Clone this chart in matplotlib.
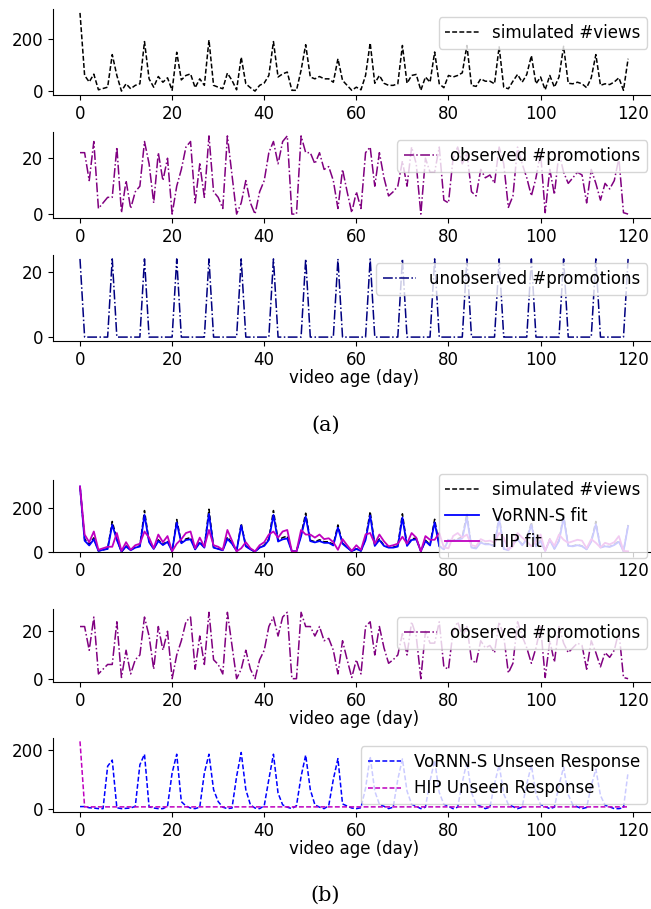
import numpy as np
import matplotlib
matplotlib.use("Agg")
import matplotlib.pyplot as plt

days = np.arange(120)

views = [300, 60, 35, 65, 5, 10, 15, 140, 60, 0,
         28, 9, 22, 28, 190, 47, 15, 56, 34, 51,
         3, 149, 43, 60, 66, 13, 47, 22, 196, 22,
         15, 9, 69, 41, 5, 130, 28, 13, 0, 22,
         31, 60, 190, 54, 66, 73, 3, 3, 80, 178,
         54, 47, 56, 47, 47, 34, 124, 41, 22, 3,
         15, 5, 60, 185, 30, 60, 30, 22, 22, 28,
         175, 30, 60, 64, 3, 54, 34, 150, 28, 13,
         60, 54, 60, 70, 175, 22, 18, 47, 38, 38,
         28, 170, 15, 9, 38, 64, 34, 64, 136, 28,
         54, 5, 60, 15, 54, 172, 30, 28, 34, 28,
         13, 51, 140, 22, 28, 25, 35, 51, 3, 124]

observed_promos = [22, 22, 12, 26, 2, 4, 6, 6, 24, 0.5,
                   12, 2, 8, 10, 26, 18, 4, 22, 12, 20,
                   0, 10, 16, 24, 26, 4, 18, 6, 28, 8,
                   6, 2, 28, 14, 0, 4, 12, 4, 0, 8,
                   12, 22, 26, 18, 26, 28, 0, 0, 28, 22,
                   22, 18, 22, 16, 17, 12, 2, 16, 8, 0.5,
                   8, 2, 22, 24, 10, 22, 13, 6.5, 8, 10,
                   19, 10, 24, 18, 0, 20, 15, 15, 24, 5,
                   4, 20, 24, 18, 22, 8, 6.5, 16, 13, 14,
                   11, 24, 18, 2.4, 6.5, 24, 18, 13, 6.5, 13,
                   22, 0.5, 16, 7, 22, 15, 11, 13, 15, 14,
                   4, 16, 11, 5, 11, 9, 12, 20, 0.5, 0]

unobserved_promos = [24, 0, 0, 0, 0, 0, 0, 24, 0, 0,
                     0, 0, 0, 0, 24, 0, 0, 0, 0, 0,
                     0, 24, 0, 0, 0, 0, 0, 0, 24, 0,
                     0, 0, 0, 0, 0, 24, 0, 0, 0, 0,
                     0, 0, 24, 0, 0, 0, 0, 0, 0, 24,
                     0, 0, 0, 0, 0, 0, 24, 0, 0, 0,
                     0, 0, 0, 24, 0, 0, 0, 0, 0, 0,
                     24, 0, 0, 0, 0, 0, 0, 24, 0, 0,
                     0, 0, 0, 0, 24, 0, 0, 0, 0, 0,
                     0, 24, 0, 0, 0, 0, 0, 0, 24, 0,
                     0, 0, 0, 0, 0, 24, 0, 0, 0, 0,
                     0, 0, 24, 0, 0, 0, 0, 0, 0, 24]

vornn_fit = [300, 52, 30, 58, 5, 10, 14, 125, 55, 2,
             25, 8, 20, 25, 170, 45, 14, 50, 32, 46,
             4, 135, 40, 55, 58, 12, 42, 20, 175, 20,
             14, 8, 60, 38, 5, 122, 26, 12, 2, 20,
             28, 55, 170, 48, 58, 62, 3, 3, 72, 162,
             50, 44, 50, 42, 42, 30, 112, 38, 20, 4,
             14, 5, 55, 168, 28, 55, 28, 20, 20, 25,
             158, 28, 55, 58, 4, 50, 30, 136, 26, 12,
             55, 50, 55, 62, 158, 20, 16, 43, 35, 35,
             26, 154, 14, 8, 35, 58, 31, 58, 124, 26,
             50, 5, 55, 14, 50, 156, 28, 26, 31, 26,
             12, 47, 127, 20, 26, 23, 32, 47, 4, 118]

hip_fit = [300, 80, 45, 94, 10, 17, 24, 24, 87, 5,
           45, 10, 31, 38, 94, 66, 17, 80, 45, 73,
           3, 38, 59, 87, 94, 17, 66, 24, 101, 31,
           24, 10, 101, 52, 3, 17, 45, 17, 3, 31,
           45, 80, 94, 66, 94, 101, 3, 3, 101, 80,
           80, 66, 80, 59, 63, 45, 10, 59, 31, 5,
           31, 10, 80, 87, 38, 80, 49, 26, 31, 38,
           70, 38, 87, 66, 3, 73, 56, 56, 87, 21,
           17, 73, 87, 66, 80, 31, 26, 59, 49, 52,
           42, 87, 66, 11, 26, 87, 66, 49, 26, 49,
           80, 5, 59, 28, 80, 56, 42, 49, 56, 52,
           17, 59, 42, 21, 42, 35, 45, 73, 5, 3]

vornn_unseen = [7, 7, 3, 2, 0, 0, 145, 166, 3, 0,
                1, 2, 8, 150, 186, 6, 2, 0, 0, 8,
                122, 186, 24, 9, 2, 0, 5, 122, 186, 65,
                24, 5, 0, 2, 110, 192, 65, 13, 2, 0,
                10, 100, 186, 53, 13, 5, 0, 10, 110, 183,
                65, 13, 5, 0, 10, 100, 171, 16, 9, 2,
                0, 3, 70, 178, 60, 15, 8, 0, 5, 100,
                170, 60, 15, 8, 0, 5, 95, 165, 55, 15,
                8, 0, 5, 90, 160, 55, 15, 8, 0, 5,
                85, 150, 50, 14, 7, 0, 5, 85, 148, 50,
                14, 7, 0, 5, 80, 142, 48, 13, 6, 0,
                4, 78, 135, 45, 12, 6, 0, 0, 3, 125]

hip_unseen = [230] + [6] * 119

xticks = [0, 20, 40, 60, 80, 100, 120]

plt.rcParams['font.family'] = ['DejaVu Sans']
plt.rcParams['font.size'] = 12

W, H = 651, 909
fig = plt.figure(figsize=(W / 100, H / 100), dpi=100)

def add_ax(top, bottom):
    left = 52.6
    right = 655.5
    return fig.add_axes([left / W, 1 - bottom / H, (right - left) / W, (bottom - top) / H])

def style(ax, yt):
    ax.spines['top'].set_visible(False)
    ax.spines['right'].set_visible(False)
    ax.set_xticks(xticks)
    ax.set_yticks(yt)
    ax.tick_params(labelsize=12)

lw = 1.1
dash = (3.2, 1.5)
# (a)
ax1 = add_ax(9, 95)
ax1.plot(days, views, '--', dashes=dash, color='black', lw=lw, label='simulated #views')
style(ax1, [0, 200])
ax1.legend(loc='upper right', fontsize=12)

ax2 = add_ax(132, 218)
ax2.plot(days, observed_promos, '-.', color='purple', lw=lw, label='observed #promotions')
style(ax2, [0, 20])
ax2.legend(loc='upper right', fontsize=12)

ax3 = add_ax(255, 341)
ax3.plot(days, unobserved_promos, '-.', color='navy', lw=lw, label='unobserved #promotions')
style(ax3, [0, 20])
ax3.legend(loc='upper right', fontsize=12)
ax3.set_xlabel('video age (day)', fontsize=12, labelpad=0.5)

fig.text(0.5, 1 - 425 / H, '(a)', ha='center', va='center', fontsize=15, family='DejaVu Serif')

# (b)
ax4 = add_ax(480, 552)
ax4.plot(days, views, '--', dashes=dash, color='black', lw=lw, label='simulated #views')
ax4.plot(days, vornn_fit, '-', color='blue', lw=1.3, label='VoRNN-S fit')
ax4.plot(days, hip_fit, '-', color='m', lw=1.3, label='HIP fit')
style(ax4, [0, 200])
ax4.set_ylim(0, 330)
ax4.legend(loc='center right', fontsize=12)

ax5 = add_ax(609, 682)
ax5.plot(days, observed_promos, '-.', color='purple', lw=lw, label='observed #promotions')
style(ax5, [0, 20])
ax5.legend(loc='upper right', fontsize=12)
ax5.set_xlabel('video age (day)', fontsize=12, labelpad=0.5)

ax6 = add_ax(738, 812)
ax6.plot(days, vornn_unseen, '--', dashes=dash, color='blue', lw=lw, label='VoRNN-S Unseen Response')
ax6.plot(days, hip_unseen, '--', dashes=dash, color='m', lw=lw, label='HIP Unseen Response')
style(ax6, [0, 200])
ax6.legend(loc='upper right', fontsize=12)
ax6.set_xlabel('video age (day)', fontsize=12, labelpad=0.5)

fig.text(0.5, 1 - 895 / H, '(b)', ha='center', va='center', fontsize=15, family='DejaVu Serif')

fig.savefig('out.png', dpi=100)
